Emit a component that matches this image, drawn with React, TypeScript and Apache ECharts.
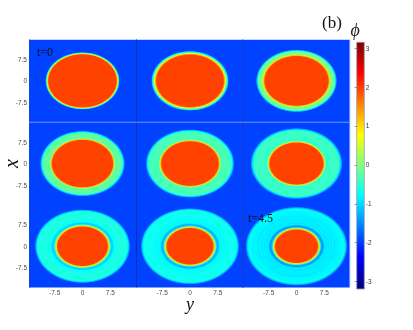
import React, { useEffect, useRef } from "react";
import * as echarts from "echarts";

const axisRange = 14.4;
const tickValues = [-7.5, 0, 7.5];
const phiTicks = [-3, -2, -1, 0, 1, 2, 3];
const phiRange = [-3.19, 3.15];

// phi at which the jet colour map reaches each anchor colour
const jetStops: [number, string][] = [
  [-3.1416, "#000080"],
  [-2.3562, "#0000ff"],
  [-0.7854, "#00ffff"],
  [0.7854, "#ffff00"],
  [2.3562, "#ff0000"],
  [3.1416, "#800000"],
];

const backgroundPhi = -1.95;

// radial profiles of phi: [radius, phi]
const panel1 = [[0, 1.95], [9.1, 1.95], [9.4, 1], [9.6, 0], [9.8, -1], [10.05, -1.95]];
const panel2 = [[0, 1.95], [8.95, 1.95], [9.25, 1.4], [9.5, 0.7], [9.7, 0], [9.95, -0.4], [10.2, -1.1], [10.45, -1.95]];
const panel3 = [[0, 1.95], [8.5, 1.95], [8.8, 1.2], [9.05, 0.3], [9.3, -0.05], [10.1, -0.05], [10.4, -0.6], [10.7, -1.3], [10.95, -1.95]];
const panel4 = [[0, 1.95], [8.1, 1.95], [8.4, 1.2], [8.65, 0.2], [8.9, -0.25], [9.1, -0.2], [10.5, -0.2], [10.85, -0.7], [11.2, -1.3], [11.45, -1.95]];
const panel5 = [[0, 1.95], [7.6, 1.95], [7.95, 1.1], [8.2, 0.1], [8.45, -0.4], [8.8, -0.35], [11, -0.33], [11.35, -0.8], [11.7, -1.35], [11.95, -1.95]];
const panel6 = [[0, 1.95], [7.15, 1.95], [7.5, 1], [7.75, 0], [8.05, -0.55], [8.4, -0.45], [11.4, -0.42], [11.75, -0.9], [12.15, -1.4], [12.4, -1.95]];
const panel7 = [[0, 1.95], [6.7, 1.95], [7.05, 1], [7.35, -0.1], [7.7, -0.95], [8.05, -1.1], [8.4, -0.8], [8.7, -0.68], [9, -0.75], [9.3, -0.64], [11.9, -0.6], [12.25, -0.85], [12.6, -1.35], [12.85, -1.95]];
const panel8 = [[0, 1.95], [6.2, 1.95], [6.55, 1], [6.85, -0.1], [7.15, -1.05], [7.55, -1.3], [7.95, -0.9], [8.3, -0.72], [8.6, -0.85], [8.95, -0.72], [9.3, -0.82], [9.7, -0.72], [12.4, -0.68], [12.75, -0.95], [13.05, -1.4], [13.3, -1.95]];
const panel9 = [[0, 1.95], [5.65, 1.95], [6, 1], [6.3, -0.1], [6.65, -1.15], [7, -1.5], [7.4, -1.05], [7.7, -0.82], [8, -1], [8.3, -0.82], [8.6, -0.98], [8.95, -0.82], [9.3, -0.95], [9.7, -0.82], [10.2, -0.92], [11, -0.85], [12.2, -0.82], [12.85, -0.72], [13.2, -1.05], [13.5, -1.45], [13.75, -1.95]];
const panels = [panel1, panel2, panel3, panel4, panel5, panel6, panel7, panel8, panel9];

const hex = (s: string) => [1, 3, 5].map((i) => parseInt(s.slice(i, i + 2), 16));
function jet(phi: number) {
  for (let i = 1; i < jetStops.length; i++) {
    const [p0, c0] = jetStops[i - 1];
    const [p1, c1] = jetStops[i];
    if (phi <= p1) {
      const f = Math.max(0, (phi - p0) / (p1 - p0));
      const a = hex(c0);
      const b = hex(c1);
      return `rgb(${a.map((v, k) => Math.round(v + (b[k] - v) * f)).join(",")})`;
    }
  }
  return jetStops[jetStops.length - 1][1];
}

const colLefts = [29, 136.5, 243];
const rowTops = [39.5, 122.2, 204.9];
const panelW = 107;
const panelH = 82.7;
const labelColor = "#4a4a4a";
const serif = "'Liberation Serif', serif";

function buildOption() {
  const grids: any[] = [];
  const xAxes: any[] = [];
  const yAxes: any[] = [];
  const series: any[] = [];

  panels.forEach((profile, i) => {
    const row = Math.floor(i / 3);
    const col = i % 3;
    grids.push({
      left: colLefts[col],
      top: rowTops[row],
      width: panelW,
      height: panelH,
      show: true,
      backgroundColor: jet(backgroundPhi),
      borderWidth: 0,
      outerBoundsMode: "none",
    });
    xAxes.push({
      type: "value",
      gridIndex: i,
      min: -axisRange,
      max: axisRange,
      splitLine: { show: false },
      axisLine: { show: false },
      axisTick: { show: false },
      axisLabel: {
        show: row === 2,
        customValues: tickValues,
        fontSize: 6.5,
        color: labelColor,
        margin: 1.5,
        fontFamily: "'Liberation Sans', sans-serif",
      },
      ...(i === 7
        ? {
            name: "y",
            nameLocation: "middle",
            nameGap: 10,
            nameMoveOverlap: false,
            nameTextStyle: { fontFamily: serif, fontStyle: "italic", fontSize: 18, lineHeight: 12, color: "#111" },
          }
        : {}),
    });
    yAxes.push({
      type: "value",
      gridIndex: i,
      min: -axisRange,
      max: axisRange,
      splitLine: { show: false },
      axisLine: { show: false },
      axisTick: { show: false },
      axisLabel: {
        show: col === 0,
        customValues: tickValues,
        fontSize: 6.5,
        color: labelColor,
        margin: 2,
        fontFamily: "'Liberation Sans', sans-serif",
      },
      ...(i === 3
        ? {
            name: "x",
            nameLocation: "middle",
            nameGap: 8,
            nameRotate: 90,
            nameMoveOverlap: false,
            nameTextStyle: { fontFamily: serif, fontStyle: "italic", fontSize: 20, color: "#111" },
          }
        : {}),
    });
    const outer = profile[profile.length - 1][0];
    series.push({
      type: "custom",
      coordinateSystem: "cartesian2d",
      xAxisIndex: i,
      yAxisIndex: i,
      silent: true,
      clip: true,
      data: [[0, 0]],
      renderItem: (_p: any, api: any) => {
        const c = api.coord([api.value(0), api.value(1)]);
        const s = api.size([outer, outer]);
        return {
          type: "ellipse",
          shape: { cx: c[0], cy: c[1], rx: s[0], ry: s[1] },
          style: {
            fill: new echarts.graphic.RadialGradient(
              0.5,
              0.5,
              0.5,
              profile.map(([r, phi]) => ({ offset: r / outer, color: jet(phi) }))
            ),
          },
        };
      },
    });
  });

  // colour bar: grid 9, sharing value scale between a right (labelled) and a left axis
  grids.push({ left: 356.7, top: 42.3, width: 7.6, height: 246.7, show: false, outerBoundsMode: "none" });
  xAxes.push({ type: "value", gridIndex: 9, min: 0, max: 1, show: false });
  const barTicks = (position: string, labelled: boolean, extra: any = {}) => ({
    type: "value",
    gridIndex: 9,
    position,
    min: phiRange[0],
    max: phiRange[1],
    splitLine: { show: false },
    axisLine: { show: false },
    axisTick: { show: true, inside: true, length: 2, customValues: phiTicks, lineStyle: { color: "#555", width: 0.7 } },
    axisLabel: {
      show: labelled,
      customValues: phiTicks,
      fontSize: 6.5,
      color: "#333",
      margin: 1.5,
      fontFamily: "'Liberation Sans', sans-serif",
    },
    ...extra,
  });
  yAxes.push(
    barTicks("right", true, {
      name: "ϕ",
      nameLocation: "end",
      nameGap: 3,
      nameMoveOverlap: false,
      nameTextStyle: {
        fontFamily: serif,
        fontStyle: "italic",
        fontSize: 18,
        color: "#222",
        align: "center",
        padding: [0, 3, 0, 0],
      },
    })
  );
  yAxes.push(barTicks("left", false));
  series.push({
    type: "custom",
    coordinateSystem: "cartesian2d",
    xAxisIndex: 9,
    yAxisIndex: 9,
    silent: true,
    clip: false,
    data: [[0, phiRange[0], 1, phiRange[1]]],
    z: 1,
    renderItem: (_p: any, api: any) => {
      const a = api.coord([api.value(0), api.value(1)]);
      const b = api.coord([api.value(2), api.value(3)]);
      const span = phiRange[1] - phiRange[0];
      const stops = [phiRange[1], ...jetStops.map((s) => s[0]).reverse(), phiRange[0]]
        .filter((p) => p <= phiRange[1] && p >= phiRange[0])
        .map((p) => ({ offset: (phiRange[1] - p) / span, color: jet(p) }));
      return {
        type: "rect",
        shape: { x: a[0], y: b[1], width: b[0] - a[0], height: a[1] - b[1] },
        style: {
          fill: new echarts.graphic.LinearGradient(0, 0, 0, 1, stops),
          stroke: "#9c9cb0",
          lineWidth: 0.8,
        },
      };
    },
  });

  const rule = (x1: number, y1: number, x2: number, y2: number, stroke: string) => ({
    type: "line",
    z: 20,
    silent: true,
    shape: { x1, y1, x2, y2 },
    style: { stroke, lineWidth: 1 },
  });
  const note = (text: string, x: number, y: number, fontSize: number) => ({
    type: "text",
    z: 30,
    silent: true,
    x,
    y,
    style: { text, fontFamily: serif, fontSize, fill: "#111", textAlign: "left", textVerticalAlign: "middle" },
  });

  return {
    animation: false,
    backgroundColor: "#ffffff",
    grid: grids,
    xAxis: xAxes,
    yAxis: yAxes,
    series,
    graphic: [
      rule(29, 39.5, 350, 39.5, "#c8d6fa"),
      rule(350, 39.5, 350, 287.6, "#c8d8fc"),
      rule(29.5, 39.5, 29.5, 287.6, "#1f42d0"),
      rule(136.5, 39.5, 136.5, 287.6, "#16309c"),
      rule(242.7, 39.5, 242.7, 287.6, "#1a3cc0"),
      rule(29, 122.2, 350, 122.2, "#6a8ae8"),
      note("t=0", 37, 52, 12),
      note("t=4.5", 248, 217.5, 12),
      note("(b)", 322, 22, 17),
    ],
  };
}

export default function App() {
  const ref = useRef<HTMLDivElement>(null);
  useEffect(() => {
    const chart = echarts.init(ref.current!, undefined, { renderer: "svg" });
    chart.setOption(buildOption() as any);
    return () => chart.dispose();
  }, []);
  return (
    <div
      ref={ref}
      style={{ position: "absolute", left: 0, top: 0, width: 413, height: 330, filter: "blur(0.4px)" }}
    />
  );
}
